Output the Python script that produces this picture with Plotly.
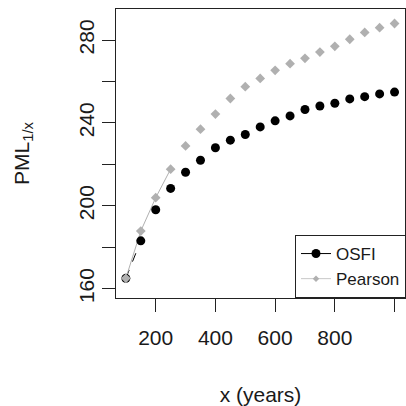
import plotly.graph_objects as go

years = [100, 150, 200, 250, 300, 350, 400, 450, 500, 550, 600, 650, 700, 750, 800, 850, 900, 950, 1000]
osfi = [165.0, 183.1, 198.1, 208.4, 216.2, 222.0, 228.0, 231.7, 234.4, 238.1, 241.0, 243.4, 246.5, 248.2, 249.5, 251.6, 252.7, 254.0, 254.9]
pearson = [165.0, 187.8, 203.9, 217.7, 228.9, 237.0, 244.3, 251.8, 257.5, 261.5, 265.4, 268.6, 271.2, 274.2, 277.0, 280.4, 283.7, 286.0, 288.0]

x_ticks = [200, 400, 600, 800]
x_minor = [1000]
y_ticks = [160, 200, 240, 280]
y_minor = [180, 220, 260]

FONT = "Liberation Sans, Arial, Helvetica, sans-serif"
TXT = "#1a1a1a"
GREY = "#b0b0b0"

fig = go.Figure()
# connecting segments (R type="b": only visible where points are far apart)
fig.add_trace(go.Scatter(
    x=years[:2], y=osfi[:2], mode="lines", showlegend=False, hoverinfo="skip",
    line=dict(color="black", width=1, dash="dash"),
))
fig.add_trace(go.Scatter(
    x=years[:4], y=pearson[:4], mode="lines", showlegend=False, hoverinfo="skip",
    line=dict(color=GREY, width=1),
))
fig.add_trace(go.Scatter(
    x=years, y=osfi, name="OSFI", mode="markers", showlegend=False,
    marker=dict(symbol="circle", size=9, color="black"),
))
fig.add_trace(go.Scatter(
    x=years, y=pearson, name="Pearson", mode="markers", showlegend=False,
    marker=dict(symbol="diamond", size=7.5, color=GREY),
))
# legend entries
fig.add_trace(go.Scatter(
    x=[None], y=[None], name="OSFI", mode="lines+markers",
    line=dict(color="black", width=1),
    marker=dict(symbol="circle", size=9, color="black"),
))
fig.add_trace(go.Scatter(
    x=[None], y=[None], name="Pearson", mode="lines+markers",
    line=dict(color="#c8c8c8", width=1),
    marker=dict(symbol="diamond", size=5, color=GREY),
))

axis_common = dict(
    showline=True, linecolor="#222222", linewidth=1, mirror=True,
    ticks="outside", ticklen=13, tickcolor="#222222", tickwidth=1,
    showgrid=False, zeroline=False,
    tickfont=dict(family=FONT, size=21, color=TXT),
)

fig.update_layout(
    width=406, height=406,
    margin=dict(l=116, r=0, t=9, b=108),
    paper_bgcolor="white", plot_bgcolor="white",
    font=dict(family=FONT, color=TXT),
    showlegend=True,
    legend=dict(
        x=0.62, y=0, xanchor="left", yanchor="bottom",
        bgcolor="white", bordercolor="#222222", borderwidth=1,
        font=dict(family=FONT, size=17, color=TXT),
        itemsizing="trace",
    ),
)
fig.update_xaxes(
    range=[67, 1035], tickmode="array", tickvals=x_ticks,
    minor=dict(tickmode="array", tickvals=x_minor, ticks="outside", ticklen=13, tickcolor="#222222"),
    ticklabelstandoff=8,
    title=dict(text="x (years)", font=dict(family=FONT, size=21, color=TXT), standoff=39),
    **axis_common,
)
fig.update_yaxes(
    range=[155.5, 295], tickmode="array", tickvals=y_ticks,
    minor=dict(tickmode="array", tickvals=y_minor, ticks="outside", ticklen=13, tickcolor="#222222"),
    tickangle=-90,
    title=dict(text="PML<sub>1/x</sub>", font=dict(family=FONT, size=21, color=TXT), standoff=39),
    **axis_common,
)

fig.write_html("out.html")
